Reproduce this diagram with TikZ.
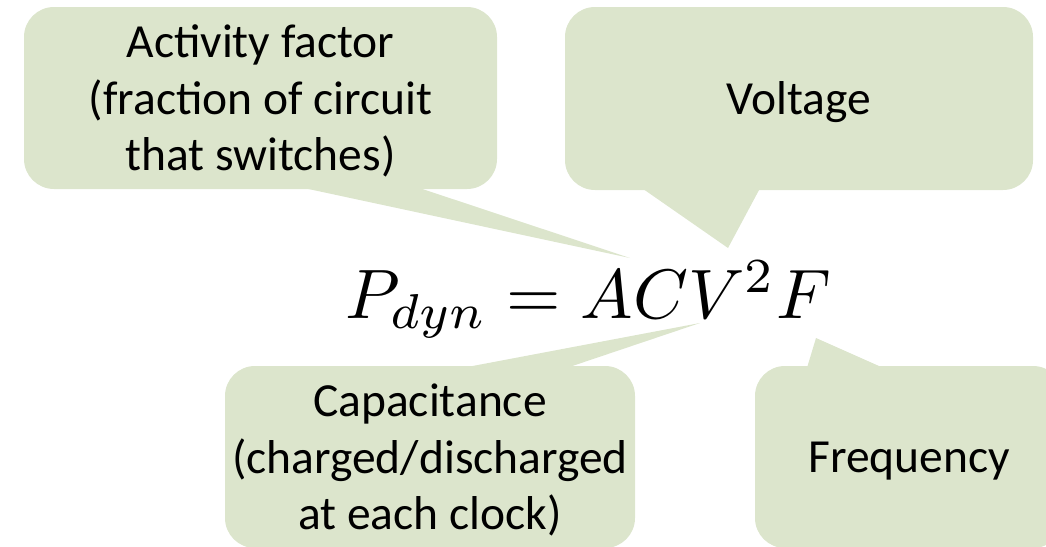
\documentclass[tikz,border=0pt]{standalone}
\usepackage[no-math]{fontspec}
\setmainfont{Carlito}
\usepackage{tikz}
\definecolor{calloutgreen}{RGB}{220,229,204}

\begin{document}
\begin{tikzpicture}[x=1pt,y=-1pt,
    every node/.style={font=\fontsize{47.5}{56.5}\selectfont},
    callbox/.style={fill=calloutgreen,rounded corners=30pt,align=center,inner sep=0pt,text depth=0pt}]
  \useasboundingbox (0,0) rectangle (1046,546);
  \clip (0,0) rectangle (1046,546);
  \node[callbox,minimum width=473pt,minimum height=182pt] (act) at (260.5,98)
    {Activity factor\\(fraction of circuit\\that switches)};
  \node[callbox,minimum width=468pt,minimum height=183pt] (volt) at (799,98.5) {Voltage};
  \node[callbox,minimum width=410pt,minimum height=182pt] (cap) at (430,457)
    {Capacitance\\(charged/discharged\\at each clock)};
  \node[callbox,minimum width=308pt,minimum height=182pt] (freq) at (909,457) {Frequency};
  \coordinate (actTip) at (630,258);
  \coordinate (voltTip) at (728,248);
  \coordinate (capTip) at (700,323);
  \coordinate (freqTip) at (816,338);
  \fill[calloutgreen] ([xshift=39.5pt,yshift=2pt]act.south) -- (actTip) -- ([xshift=156.5pt,yshift=2pt]act.south) -- cycle;
  \fill[calloutgreen] ([xshift=-157pt,yshift=2pt]volt.south) -- (voltTip) -- ([xshift=-39pt,yshift=2pt]volt.south) -- cycle;
  \fill[calloutgreen] ([xshift=33pt,yshift=-2pt]cap.north) -- (capTip) -- ([xshift=137pt,yshift=-2pt]cap.north) -- cycle;
  \fill[calloutgreen] ([xshift=-102pt,yshift=-2pt]freq.north) -- (freqTip) -- ([xshift=-26pt,yshift=-2pt]freq.north) -- cycle;
  \node[anchor=base,inner sep=0pt,font=\fontsize{10}{12}\selectfont] (pdyn) at (588,318)
    {\scalebox{7}{$P_{dyn} = ACV^2F$}};
\end{tikzpicture}
\end{document}
